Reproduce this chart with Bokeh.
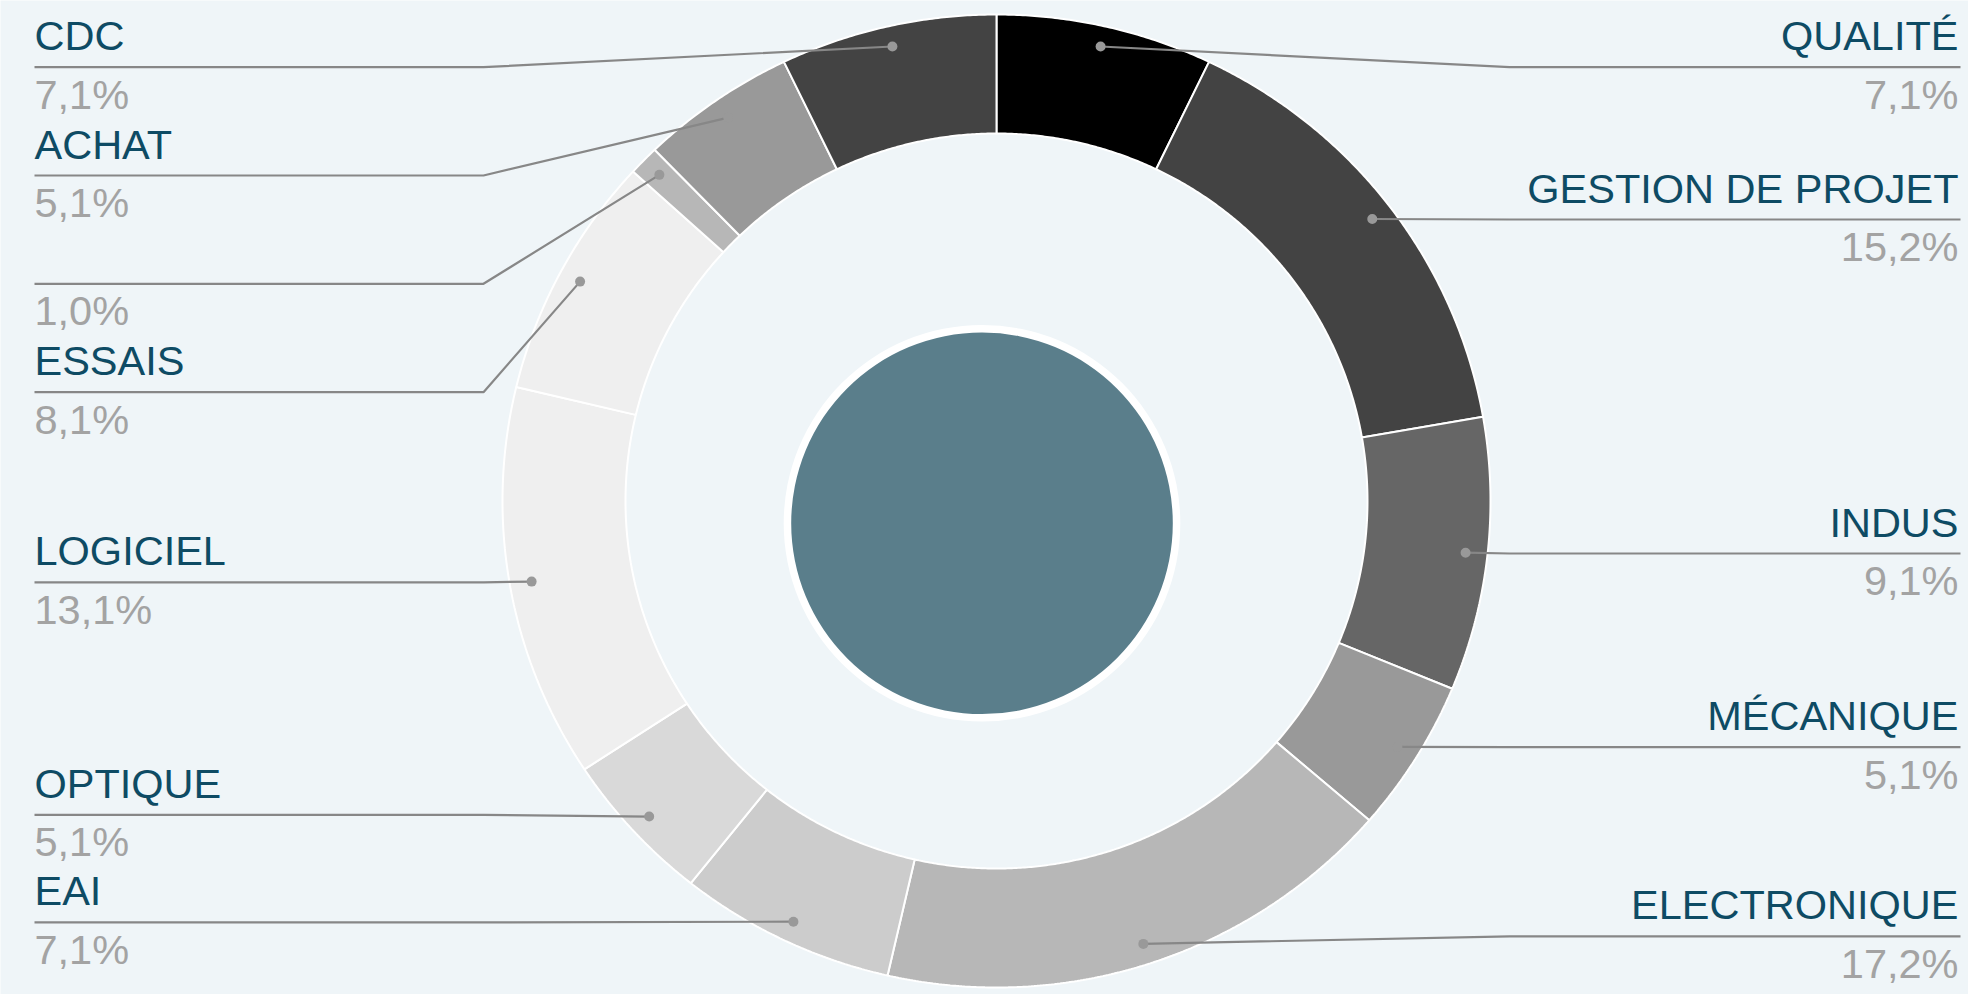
import numpy as np
from bokeh.plotting import figure
from bokeh.models import Range1d
from bokeh.core.properties import value
from bokeh.embed import file_html
from bokeh.resources import INLINE

# ---- data (clockwise from 12 o'clock) ----
categories = ["QUALITÉ", "GESTION DE PROJET", "INDUS", "MÉCANIQUE", "ELECTRONIQUE",
              "EAI", "OPTIQUE", "LOGICIEL", "ESSAIS", "", "ACHAT", "CDC"]
shares = [7.1, 15.2, 9.1, 5.1, 17.2, 7.1, 5.1, 13.1, 8.1, 1.0, 5.1, 7.1]

# ---- styles / layout ----
slice_colors = ["#000000", "#434343", "#666666", "#999999", "#b7b7b7",
                "#cccccc", "#d9d9d9", "#efefef", "#efefef", "#b7b7b7", "#999999", "#434343"]
label_y = [66.7, 219, 553, 746.7, 935.8, 921.9, 814.3, 581.8, 391.7, 283.3, 175, 66.7]

BG = "#eff5f8"
NAME_COLOR = "#0e4b64"
PCT_COLOR = "#a3a3a3"
LINE_COLOR = "#878787"
FONT = "Liberation Sans"
FS = "41.5px"

W, H = 1968, 994
p = figure(width=W, height=H, x_range=Range1d(0, W), y_range=Range1d(H, 0),
           output_backend="svg", toolbar_location=None, min_border=0,
           x_axis_location=None, y_axis_location=None)
p.grid.visible = False
p.outline_line_color = None
p.background_fill_color = BG
p.border_fill_color = BG

cx, cy = 996, 500.5
rxo, ryo = 494, 486.5
rxi, ryi = 371, 367.5
rxd, ryd = 472, 466

total = sum(shares)
cum = np.concatenate([[0.0], np.cumsum(shares)]) / total

xs, ys = [], []
for i in range(len(shares)):
    a0, a1 = 2 * np.pi * cum[i], 2 * np.pi * cum[i + 1]
    n = max(8, int(np.degrees(a1 - a0) * 3))
    t = np.linspace(a0, a1, n)
    ox = cx + rxo * np.sin(t)
    oy = cy - ryo * np.cos(t)
    ix = cx + rxi * np.sin(t[::-1])
    iy = cy - ryi * np.cos(t[::-1])
    xs.append(list(np.r_[ox, ix]))
    ys.append(list(np.r_[oy, iy]))
p.patches(xs, ys, fill_color=slice_colors, line_color="white", line_width=2)

# center disc
ccx, ccy = 981.5, 522.8
p.circle(x=[ccx], y=[ccy], radius=198.3, fill_color="white", line_color=None)
p.circle(x=[ccx], y=[ccy], radius=190.8, fill_color="#5a7e8b", line_color=None)

# connectors & labels
ELBOW = 513
LEFT_X, RIGHT_X = 34, 1960
line_xs, line_ys, dot_x, dot_y = [], [], [], []
L = dict(nx=[], ny=[], nt=[], py=[], pt=[])
R = dict(nx=[], ny=[], nt=[], py=[], pt=[])
for i, (cat, v) in enumerate(zip(categories, shares)):
    mid = np.pi * (cum[i] + cum[i + 1])
    dx = cx + rxd * np.sin(mid)
    dy = cy - ryd * np.cos(mid)
    ly = label_y[i]
    right = np.sin(mid) > 0
    ex = cx + ELBOW if right else cx - ELBOW
    endx = RIGHT_X if right else LEFT_X
    line_xs.append([dx, ex, endx])
    line_ys.append([dy, ly, ly])
    dot_x.append(dx)
    dot_y.append(dy)
    d = R if right else L
    d["nx"].append(RIGHT_X - 2 if right else LEFT_X)
    d["ny"].append(ly - 31.5)
    d["nt"].append(cat)
    d["py"].append(ly + 27)
    d["pt"].append(f"{v:.1f}".replace(".", ",") + "%")

p.multi_line(line_xs, line_ys, line_color=LINE_COLOR, line_width=2.2)
p.scatter(dot_x, dot_y, size=10, fill_color="#999999", line_color=None)

for d, align in ((L, "left"), (R, "right")):
    p.text(x=d["nx"], y=d["ny"], text=d["nt"], text_align=align, text_baseline="alphabetic",
           text_font=value(FONT), text_font_size=FS, text_color=NAME_COLOR)
    p.text(x=d["nx"], y=d["py"], text=d["pt"], text_align=align, text_baseline="alphabetic",
           text_font=value(FONT), text_font_size=FS, text_color=PCT_COLOR)

open("out.html", "w").write(file_html(p, INLINE, title="Répartition"))
